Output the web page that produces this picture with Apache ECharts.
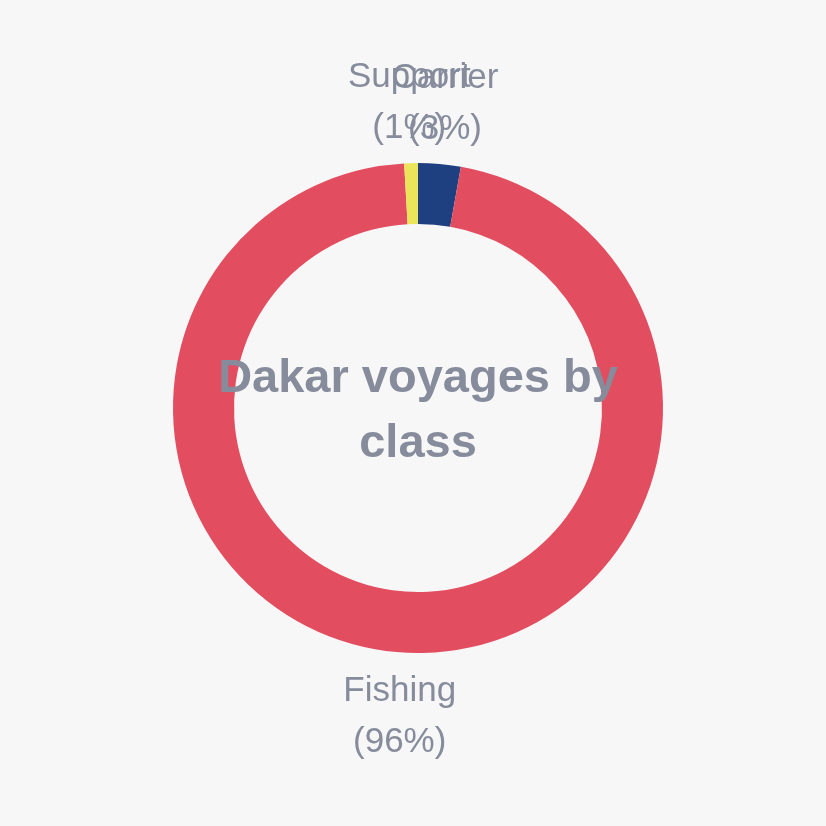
<!DOCTYPE html>
<html>
<head>
<meta charset="utf-8">
<script src="https://cdn.jsdelivr.net/npm/echarts@6/dist/echarts.min.js"></script>
<style>
html,body{margin:0;padding:0;background:#f7f7f7;}
#chart{width:826px;height:826px;}
</style>
</head>
<body>
<div id="chart"></div>
<script>
const titleLines = ['Dakar voyages by', 'class'];
const categories = ['Carrier', 'Fishing', 'Support'];
const values = [28, 963, 9];
const colors = ['#1f4080', '#e24d60', '#ebe55a'];

const chart = echarts.init(document.getElementById('chart'), null, {renderer: 'canvas'});
chart.setOption({
  backgroundColor: '#f7f7f7',
  animation: false,
  title: {
    text: titleLines.join('\n'),
    left: 418,
    top: 347,
    padding: 0,
    textAlign: 'center',
    textStyle: {
      fontFamily: 'Liberation Sans, Arial, sans-serif',
      fontSize: 47,
      fontWeight: 'bold',
      color: '#868c9c',
      lineHeight: 65
    }
  },
  series: [{
    type: 'pie',
    center: [418, 408],
    radius: [184, 245],
    startAngle: 90,
    clockwise: true,
    avoidLabelOverlap: false,
    data: categories.map((c, i) => ({name: c, value: values[i], itemStyle: {color: colors[i]}})),
    itemStyle: {borderWidth: 0},
    label: {
      show: true,
      position: 'outside',
      formatter: p => p.name + '\n(' + Math.round(p.percent) + '%)',
      fontFamily: 'Liberation Sans, Arial, sans-serif',
      fontSize: 35,
      lineHeight: 51,
      color: '#868c9c'
    },
    labelLine: {show: true, length: 62, length2: 0, lineStyle: {opacity: 0}},
    labelLayout: function (params) {
      const pts = params.labelLinePoints;
      if (!pts) return {};
      return {x: pts[1][0], y: pts[1][1] + 2, align: 'center', verticalAlign: 'middle'};
    },
    emphasis: {disabled: true}
  }]
});
</script>
</body>
</html>
